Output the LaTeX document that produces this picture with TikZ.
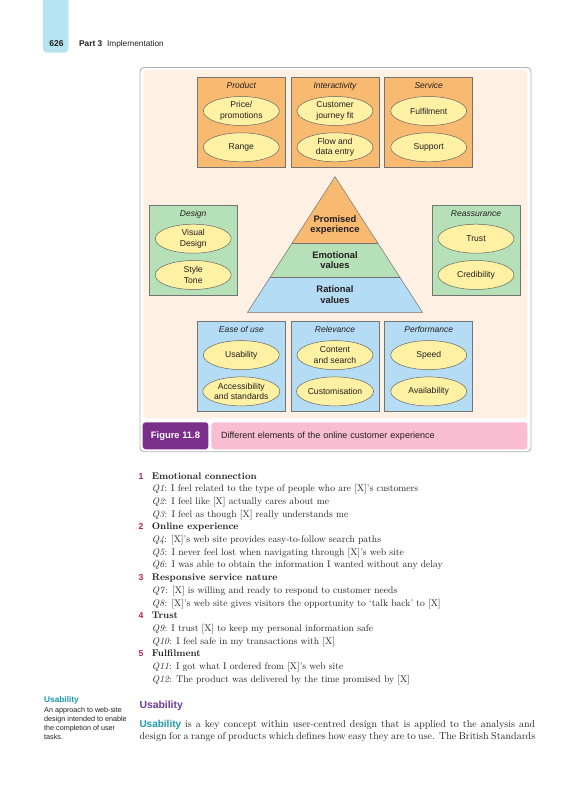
\documentclass[tikz,border=0pt]{standalone}
\usepackage{fontspec}
\setsansfont{Liberation Sans}
\usepackage{xcolor}
\usetikzlibrary{positioning,calc,shapes.geometric}

\definecolor{tabcyan}{HTML}{B5E4F0}
\definecolor{cream}{HTML}{FEF0E2}
\definecolor{boxorange}{HTML}{F8B970}
\definecolor{boxgreen}{HTML}{B6E0B8}
\definecolor{boxblue}{HTML}{B4DCF4}
\definecolor{ovalyellow}{HTML}{FEF1A3}
\definecolor{capviolet}{HTML}{7A2F8A}
\definecolor{cappink}{HTML}{F8BDD0}
\definecolor{numred}{HTML}{B8205A}
\definecolor{glossteal}{HTML}{1B9AAA}
\definecolor{headviolet}{HTML}{6C3C9C}
\definecolor{ink}{HTML}{231F20}

\newcommand{\qnum}[1]{\makebox[13.4pt][l]{\sffamily\bfseries\fontsize{8.6}{10}\selectfont\color{numred}#1}}
\newcommand{\keyterm}[1]{{\sffamily\bfseries\color{glossteal}#1}}

\begin{document}
\begin{tikzpicture}[
  x=1pt, y=-1pt,
  grp/.style={draw=black!55, line width=0.5pt, minimum width=88pt, minimum height=90pt, inner sep=0pt, outer sep=0pt},
  ttl/.style={font=\sffamily\itshape\fontsize{8.5}{10}\selectfont, text=ink, inner sep=0pt, text height=6.4pt, text depth=1.9pt},
  oval/.style={ellipse, draw=black!60, line width=0.5pt, fill=ovalyellow, minimum width=76pt, minimum height=29pt, inner sep=0pt, outer sep=0pt, align=center, text=ink, font=\sffamily\fontsize{8.6}{10.6}\selectfont},
  lyr/.style={font=\sffamily\bfseries\fontsize{9.4}{10.6}\selectfont, align=center, text=ink},
  txt/.style={anchor=base west, inner sep=0pt, text=ink},
  node distance=5.7pt
]
\useasboundingbox (0,0) rectangle (588,800);
\fill[white] (0,0) rectangle (588,800);

% ===== RUNNING HEAD =====
\fill[tabcyan, rounded corners=4pt] (43,0) -- (43,52.7) -- (68.3,52.7) -- (68.3,0);
\node[anchor=base, inner sep=0pt, text=ink, font=\sffamily\bfseries\fontsize{8.5}{10}\selectfont] (page_num) at (56.5,46.3) {626};
\node[txt, font=\sffamily\fontsize{8.3}{10}\selectfont] (run_head) at (79,46.3) {\textbf{Part 3}\hspace{4.8pt}Implementation};

% ===== FIGURE FRAME =====
\draw[black!30, line width=0.9pt, fill=white, rounded corners=4pt] (140,67.5) rectangle (531,451.7);
\fill[cream, rounded corners=4pt] (143.3,70) rectangle (527.3,418.3);

% ===== TOP ROW =====
\node[grp, fill=boxorange] (product) at (241.3,122.3) {};
\node[grp, fill=boxorange, right=of product] (interact) {};
\node[grp, fill=boxorange, right=of interact] (service) {};

\node[ttl, below=4.75pt of product.north] (product_t) {Product};
\node[oval, below=19.2pt of product.north] (price) {Price/\\promotions};
\node[oval, below=7.3pt of price] (range) {Range};

\node[ttl, below=4.75pt of interact.north] (interact_t) {Interactivity};
\node[oval, below=19.2pt of interact.north] (journey) {Customer\\journey fit};
\node[oval, below=7.3pt of journey] (flow) {Flow and\\data entry};

\node[ttl, below=4.75pt of service.north] (service_t) {Service};
\node[oval, below=19.2pt of service.north] (fulfil) {Fulfilment};
\node[oval, below=7.3pt of fulfil] (support) {Support};

% ===== MIDDLE ROW =====
\node[grp, fill=boxgreen] (design) at (193.2,250) {};
\node[ttl, below=4.75pt of design.north] (design_t) {Design};
\node[oval, below=19.2pt of design.north] (visual) {Visual\\Design};
\node[oval, below=7.3pt of visual] (style) {Style\\Tone};

\node[grp, fill=boxgreen] (reassure) at (476,250) {};
\node[ttl, below=4.75pt of reassure.north] (reassure_t) {Reassurance};
\node[oval, below=19.2pt of reassure.north] (trust) {Trust};
\node[oval, below=7.3pt of trust] (credible) {Credibility};

% pyramid
\coordinate (apex) at (335,176.7);
\coordinate (bl) at (247.5,312.3);
\coordinate (br) at (422.5,312.3);
\fill[boxorange] (apex) -- ($(apex)!0.491!(bl)$) -- ($(apex)!0.491!(br)$) -- cycle;
\fill[boxgreen] ($(apex)!0.491!(bl)$) -- ($(apex)!0.745!(bl)$) -- ($(apex)!0.745!(br)$) -- ($(apex)!0.491!(br)$) -- cycle;
\fill[boxblue] ($(apex)!0.745!(bl)$) -- (bl) -- (br) -- ($(apex)!0.745!(br)$) -- cycle;
\draw[black!55, line width=0.5pt] (apex) -- (bl) -- (br) -- cycle;
\draw[black!55, line width=0.5pt] ($(apex)!0.491!(bl)$) -- ($(apex)!0.491!(br)$);
\draw[black!55, line width=0.5pt] ($(apex)!0.745!(bl)$) -- ($(apex)!0.745!(br)$);

\node[lyr] (promised) at (335,225) {Promised\\experience};
\node[lyr] (emotional) at (335,260.3) {Emotional\\values};
\node[lyr] (rational) at (335,294.8) {Rational\\values};

% ===== BOTTOM ROW =====
\node[grp, fill=boxblue] (ease) at (241.3,366.4) {};
\node[grp, fill=boxblue, right=of ease] (relev) {};
\node[grp, fill=boxblue, right=of relev] (perf) {};

\node[ttl, below=4.75pt of ease.north] (ease_t) {Ease of use};
\node[oval, below=19.2pt of ease.north] (usab) {Usability};
\node[oval, below=7.3pt of usab] (access) {Accessibility\\and standards};

\node[ttl, below=4.75pt of relev.north] (relev_t) {Relevance};
\node[oval, below=19.2pt of relev.north] (content) {Content\\and search};
\node[oval, below=7.3pt of content] (custom) {Customisation};

\node[ttl, below=4.75pt of perf.north] (perf_t) {Performance};
\node[oval, below=19.2pt of perf.north] (speed) {Speed};
\node[oval, below=7.3pt of speed] (avail) {Availability};

% ===== CAPTION =====
\node[fill=capviolet, rounded corners=3pt, minimum width=65.6pt, minimum height=27pt, inner sep=0pt, text=white, font=\sffamily\bfseries\fontsize{9.4}{11}\selectfont] (fig_num) at (175.5,435.8) {Figure 11.8};
\node[fill=cappink, rounded corners=3pt, minimum height=27pt, text width=296.6pt, inner xsep=9.7pt, inner ysep=0pt, align=left, text=ink, font=\sffamily\fontsize{9}{11}\selectfont, right=2.7pt of fig_num] (fig_cap) {Different elements of the online customer experience};

% ===== SURVEY ITEMS =====
\node[txt, font=\fontsize{9.6}{12.7}\selectfont] (survey) at (138.3,479) {%
\begin{tabular}[t]{@{}l@{}}
\qnum{1}\textbf{Emotional connection}\\
\qnum{}\textit{Q1}: I feel related to the type of people who are [X]'s customers\\
\qnum{}\textit{Q2}: I feel like [X] actually cares about me\\
\qnum{}\textit{Q3}: I feel as though [X] really understands me\\
\qnum{2}\textbf{Online experience}\\
\qnum{}\textit{Q4}: [X]'s web site provides easy-to-follow search paths\\
\qnum{}\textit{Q5}: I never feel lost when navigating through [X]'s web site\\
\qnum{}\textit{Q6}: I was able to obtain the information I wanted without any delay\\
\qnum{3}\textbf{Responsive service nature}\\
\qnum{}\textit{Q7}: [X] is willing and ready to respond to customer needs\\
\qnum{}\textit{Q8}: [X]'s web site gives visitors the opportunity to `talk back' to [X]\\
\qnum{4}\textbf{Trust}\\
\qnum{}\textit{Q9}: I trust [X] to keep my personal information safe\\
\qnum{}\textit{Q10}: I feel safe in my transactions with [X]\\
\qnum{5}\textbf{Fulfilment}\\
\qnum{}\textit{Q11}: I got what I ordered from [X]'s web site\\
\qnum{}\textit{Q12}: The product was delivered by the time promised by [X]
\end{tabular}};

% ===== MARGIN GLOSS =====
\node[txt, text=glossteal, font=\sffamily\bfseries\fontsize{8.3}{10}\selectfont] (gloss_t) at (44,702.3) {Usability};
\node[txt, font=\sffamily\fontsize{7.2}{9}\selectfont] (gloss) at (44,712.5) {%
\begin{tabular}[t]{@{}l@{}}
An approach to web-site\\
design intended to enable\\
the completion of user\\
tasks.
\end{tabular}};

% ===== BODY TEXT =====
\node[txt, text=headviolet, font=\sffamily\bfseries\fontsize{10.4}{12}\selectfont] (body_t) at (139.3,708) {Usability};
\node[txt, font=\fontsize{10}{12.7}\selectfont] (body) at (139.3,727) {%
\begin{tabular}[t]{@{}l@{}}
\makebox[395.7pt][s]{\keyterm{Usability} is a key concept within user-centred design that is applied to the analysis and}\\
\makebox[395.7pt][s]{design for a range of products which defines how easy they are to use. The British Standards}
\end{tabular}};

\end{tikzpicture}
\end{document}
